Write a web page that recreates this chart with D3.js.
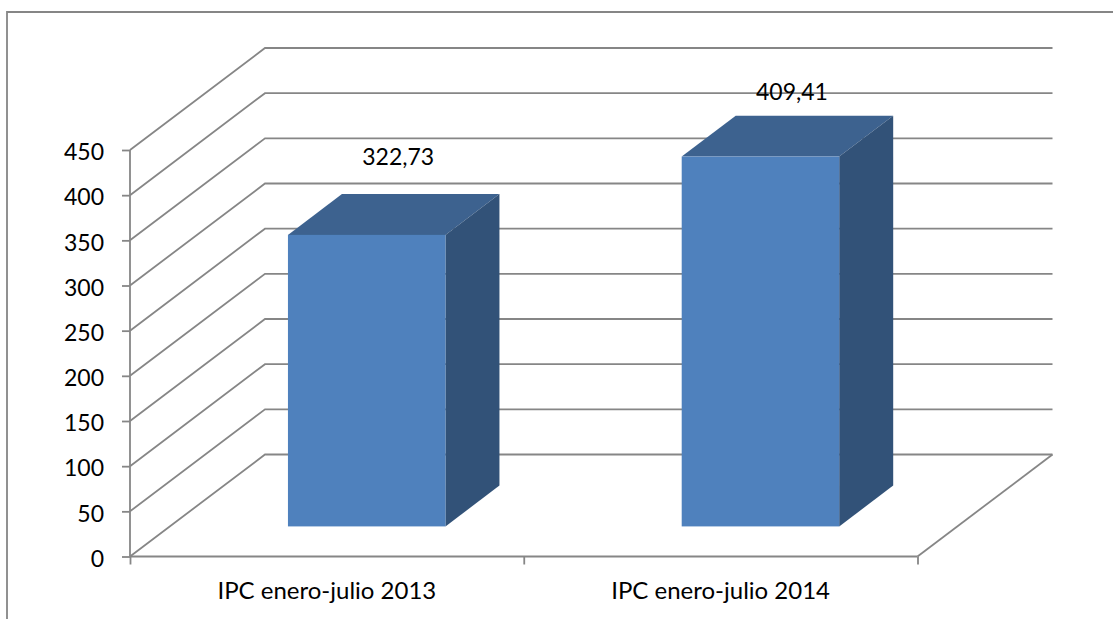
<!DOCTYPE html>
<html>
<head>
<meta charset="utf-8">
<script src="https://cdn.jsdelivr.net/npm/d3@7"></script>
<style>
html, body { margin: 0; padding: 0; background: #fff; }
svg { display: block; }
text { font-family: Lato, "Open Sans", sans-serif; fill: #000; }
</style>
</head>
<body>
<div id="chart"></div>
<script>
var categories = ["IPC enero-julio 2013", "IPC enero-julio 2014"];
var values = [322.73, 409.41];
var valueLabels = ["322,73", "409,41"];
var yTicks = [0, 50, 100, 150, 200, 250, 300, 350, 400, 450];

var width = 1113, height = 619;
var gridColor = "#868686";
var lineW = 1.8;
var catFont = 24, numFont = 23;

// oblique depth of the floor, back plane relative to the front plane
var depthX = 135, depthY = -102;
// where the bar sits in that depth, as fractions of it
var barFront = 0.295, barBack = 0.695;

var x = d3.scaleBand().domain(categories).range([130, 917.5]).paddingInner(0.6).paddingOuter(0.3);
var y = d3.scaleLinear().domain([0, 450]).range([556.5, 150]);

var svg = d3.select("#chart").append("svg").attr("width", width).attr("height", height);

// chart frame, only top and left are inside the picture
svg.append("path")
    .attr("d", "M7,640V12H1120")
    .attr("fill", "none").attr("stroke", gridColor).attr("stroke-width", lineW);

// grid: side wall + back wall
svg.append("g").selectAll("path").data(yTicks).join("path")
    .attr("fill", "none").attr("stroke", gridColor).attr("stroke-width", lineW)
    .attr("d", function (d) {
        var p = d3.path();
        p.moveTo(x.range()[0], y(d));
        p.lineTo(x.range()[0] + depthX, y(d) + depthY);
        p.lineTo(x.range()[1] + depthX, y(d) + depthY);
        return p.toString();
    });

// floor right edge
svg.append("line")
    .attr("x1", x.range()[1]).attr("y1", y(0))
    .attr("x2", x.range()[1] + depthX).attr("y2", y(0) + depthY)
    .attr("stroke", gridColor).attr("stroke-width", lineW);

// axes
var yAxis = svg.append("g").attr("transform", "translate(130,0)")
    .call(d3.axisLeft(y).tickValues(yTicks).tickSize(8).tickPadding(18));
var xAxis = svg.append("g").attr("transform", "translate(0,556.5)")
    .call(d3.axisBottom(d3.scalePoint().domain([0, 1, 2]).range(x.range())).tickSize(8).tickFormat(""));
[yAxis, xAxis].forEach(function (a) {
    a.selectAll("path, line").attr("stroke", gridColor).attr("stroke-width", lineW);
    a.select(".domain").attr("d", a === yAxis ? "M0," + y(450) + "V" + y(0) : "M130,0H917.5");
});
yAxis.selectAll("text").attr("dy", "0.42em").style("font-family", "Lato").style("font-size", numFont + "px");

// category labels
svg.append("g").selectAll("text").data(categories).join("text")
    .attr("x", function (d) { return x(d) + x.bandwidth() / 2; })
    .attr("y", 599)
    .attr("text-anchor", "middle")
    .attr("font-size", catFont)
    .text(function (d) { return d; });

// bars
var bars = svg.append("g").selectAll("g").data(values).join("g");
var fx = function (d, i) { return x(categories[i]) + depthX * barFront; };
var frontDy = depthY * barFront;
var sideDx = depthX * (barBack - barFront), sideDy = depthY * (barBack - barFront);

bars.append("path").attr("fill", "#3d628f")
    .attr("d", function (d, i) {
        var l = fx(d, i), r = l + x.bandwidth(), t = y(d) + frontDy;
        return "M" + l + "," + t + "L" + (l + sideDx) + "," + (t + sideDy) + "L" + (r + sideDx) + "," + (t + sideDy) + "L" + r + "," + t + "Z";
    });
bars.append("path").attr("fill", "#325278")
    .attr("d", function (d, i) {
        var r = fx(d, i) + x.bandwidth(), t = y(d) + frontDy, b = y(0) + frontDy;
        return "M" + r + "," + t + "L" + (r + sideDx) + "," + (t + sideDy) + "L" + (r + sideDx) + "," + (b + sideDy) + "L" + r + "," + b + "Z";
    });
bars.append("rect").attr("fill", "#4f81bd")
    .attr("x", fx)
    .attr("y", function (d) { return y(d) + frontDy; })
    .attr("width", x.bandwidth())
    .attr("height", function (d) { return y(0) - y(d); });

// value labels, the taller one gets pushed down near the top of the plot
svg.append("g").selectAll("text").data(values).join("text")
    .attr("x", function (d, i) { return fx(d, i) + x.bandwidth() / 2 + 31.5; })
    .attr("y", function (d) { return Math.max(y(d) + frontDy - 70, 100); })
    .attr("text-anchor", "middle")
    .attr("font-size", numFont)
    .text(function (d, i) { return valueLabels[i]; });
</script>
</body>
</html>
